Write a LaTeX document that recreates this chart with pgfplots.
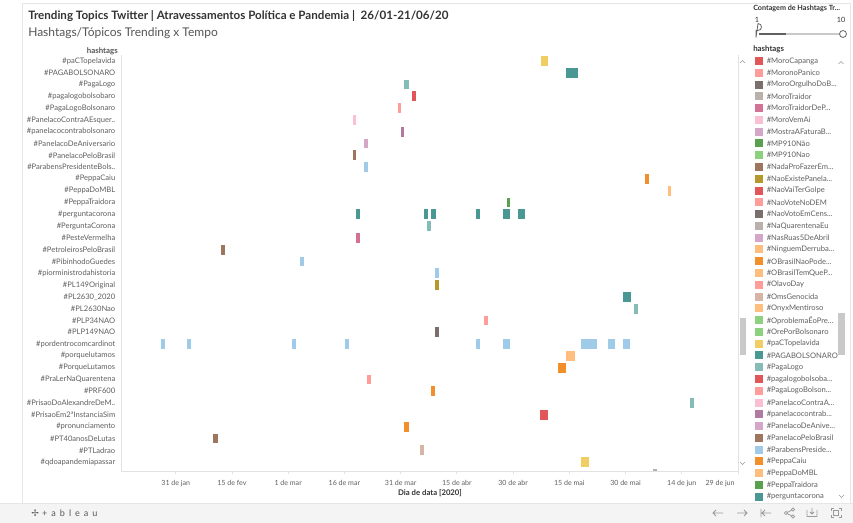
\documentclass[border=0pt]{standalone}
\usepackage{pgfplots}
\pgfplotsset{compat=1.18}
\usepackage{fontspec}
\setmainfont{Lato}
\newfontfamily\symfont{DejaVu Sans}

% Tableau 20 palette
\definecolor{tLBlue}{HTML}{A0CBE8}
\definecolor{tOrange}{HTML}{F28E2B}
\definecolor{tLOrange}{HTML}{FFBE7D}
\definecolor{tGreen}{HTML}{59A14F}
\definecolor{tLGreen}{HTML}{8CD17D}
\definecolor{tOlive}{HTML}{B6992D}
\definecolor{tYellow}{HTML}{F1CE63}
\definecolor{tTeal}{HTML}{499894}
\definecolor{tLTeal}{HTML}{86BCB6}
\definecolor{tRed}{HTML}{E15759}
\definecolor{tSalmon}{HTML}{FF9D9A}
\definecolor{tGray}{HTML}{79706E}
\definecolor{tLGray}{HTML}{BAB0AC}
\definecolor{tPink}{HTML}{D37295}
\definecolor{tLPink}{HTML}{FABFD2}
\definecolor{tPurple}{HTML}{B07AA1}
\definecolor{tLPurple}{HTML}{D4A6C8}
\definecolor{tBrown}{HTML}{9D7660}
\definecolor{tLBrown}{HTML}{D7B5A6}
\definecolor{titlegray}{HTML}{333333}
\definecolor{subgray}{HTML}{555555}
\definecolor{labgray}{HTML}{5F5F5F}
\definecolor{axisgray}{HTML}{E2E2E2}
\definecolor{framegray}{HTML}{E6E6E6}
\definecolor{barbg}{HTML}{F4F4F4}
\definecolor{thumbgray}{HTML}{C9C9C9}
\definecolor{icongray}{HTML}{9A9A9A}

% one day-range mark of a hashtag row
\pgfplotsset{seg/.style={color=#1, line width=7.3pt, line cap=butt, forget plot}}

\newcommand\legitem[3]{%
  \fill[#2] (755,#1-4) rectangle (763,#1+4);
  \node[anchor=west, inner sep=0pt, text=labgray, font=\fontsize{5.7}{6}\selectfont] at (766.5,#1) {#3};}

\begin{document}
\begin{tikzpicture}
\begin{scope}[x=0.75pt, y=-0.75pt]
  \useasboundingbox (0,0) rectangle (853,523);
  \fill[white] (0,0) rectangle (853,523);
  % dashboard frame
  \draw[framegray, line width=0.5pt] (22,503) -- (22,3) -- (850,3) -- (850,503);
  % titles
  \node[anchor=base west, inner sep=0pt, text=titlegray, font=\fontsize{8.7}{10}\selectfont\bfseries]
    at (28,20) {Trending Topics Twitter | Atravessamentos Política e Pandemia |\ \ 26/01-21/06/20};
  \node[anchor=base west, inner sep=0pt, text=subgray, font=\fontsize{9}{11}\selectfont]
    at (28,37) {Hashtags/Tópicos Trending x Tempo};
  % row header
  \node[anchor=base east, inner sep=0pt, text=subgray, font=\fontsize{5.9}{6}\selectfont\bfseries]
    at (118,54) {hashtags};
  % x title
  \node[anchor=center, inner sep=0pt, text=titlegray, font=\fontsize{5.8}{6}\selectfont\bfseries]
    at (430,493) {Dia de data [2020]};
  % right border of the plot and its scrollbar
  \draw[axisgray, line width=0.6pt] (738,55) -- (738,471);
  \fill[thumbgray] (739.5,318) rectangle (746,355);
  \draw[icongray, line width=0.5pt] (740,63) -- (742.5,60.5) -- (745,63);
  \draw[icongray, line width=0.5pt] (740,462) -- (742.5,464.5) -- (745,462);

  % filter slider
  \node[anchor=base west, inner sep=0pt, text=titlegray, font=\fontsize{5.4}{6}\selectfont\bfseries]
    at (753,11) {Contagem de Hashtags Tr...};
  \node[anchor=base, inner sep=0pt, text=titlegray, font=\fontsize{5.4}{6}\selectfont] at (757,23) {1};
  \node[anchor=base, inner sep=0pt, text=titlegray, font=\fontsize{5.4}{6}\selectfont] at (841,23) {10};
  \draw[thumbgray, line width=0.9pt] (786,34) -- (840,34);
  \draw[gray!75!black, line width=1.8pt] (759,34) -- (786,34);
  \draw[gray!80!black, fill=white, line width=0.6pt] (756,30.5) -- (758,30.5) arc (90:-90:3.5) -- (756,37.5) -- cycle;
  \draw[gray!80!black, fill=white, line width=0.6pt] (843,34) circle (3.5);

  % colour legend
  \node[anchor=base west, inner sep=0pt, text=titlegray, font=\fontsize{5.9}{6}\selectfont\bfseries]
    at (753,52) {hashtags};
  \draw[icongray, line width=0.5pt] (838.5,64) -- (841,61.5) -- (843.5,64);
  \draw[icongray, line width=0.5pt] (839,495) -- (841.5,497.5) -- (844,495);
  \fill[thumbgray] (837.5,313) rectangle (845,355);
  \legitem{61.0}{tRed}{\#MoroCapanga}
  \legitem{72.8}{tSalmon}{\#MoronoPanico}
  \legitem{84.6}{tGray}{\#MoroOrgulhoDoB...}
  \legitem{96.3}{tLGray}{\#MoroTraidor}
  \legitem{108.1}{tPink}{\#MoroTraidorDeP...}
  \legitem{119.9}{tLPink}{\#MoroVemAi}
  \legitem{131.7}{tLPurple}{\#MostraAFaturaB...}
  \legitem{143.5}{tGreen}{\#MP910Não}
  \legitem{155.2}{tLGreen}{\#MP910Nao}
  \legitem{167.0}{tBrown}{\#NadaProFazerEm...}
  \legitem{178.8}{tOlive}{\#NaoExistePanela...}
  \legitem{190.6}{tRed}{\#NaoVaiTerGolpe}
  \legitem{202.4}{tSalmon}{\#NaoVoteNoDEM}
  \legitem{214.1}{tGray}{\#NaoVotoEmCens...}
  \legitem{225.9}{tLGray}{\#NaQuarentenaEu}
  \legitem{237.7}{tLPurple}{\#NasRuas5DeAbril}
  \legitem{249.5}{tLOrange}{\#NinguemDerruba...}
  \legitem{261.3}{tOrange}{\#OBrasilNaoPode...}
  \legitem{273.0}{tLOrange}{\#OBrasilTemQueP...}
  \legitem{284.8}{tSalmon}{\#OlavoDay}
  \legitem{296.6}{tLBrown}{\#OmsGenocida}
  \legitem{308.4}{tLOrange}{\#OnyxMentiroso}
  \legitem{320.2}{tLGreen}{\#OproblemaÉoPre...}
  \legitem{331.9}{tLGreen}{\#OrePorBolsonaro}
  \legitem{343.7}{tYellow}{\#paCTopelavida}
  \legitem{355.5}{tTeal}{\#PAGABOLSONARO}
  \legitem{367.3}{tLTeal}{\#PagaLogo}
  \legitem{379.1}{tRed}{\#pagalogobolsoba...}
  \legitem{390.8}{tSalmon}{\#PagaLogoBolson...}
  \legitem{402.6}{tLPink}{\#PanelacoContraA...}
  \legitem{414.4}{tPurple}{\#panelacocontrab...}
  \legitem{426.2}{tLPurple}{\#PanelacoDeAnive...}
  \legitem{438.0}{tBrown}{\#PanelacoPeloBrasil}
  \legitem{449.7}{tLBlue}{\#ParabensPreside...}
  \legitem{461.5}{tOrange}{\#PeppaCaiu}
  \legitem{473.3}{tLOrange}{\#PeppaDoMBL}
  \legitem{485.1}{tGreen}{\#PeppaTraidora}
  \legitem{496.9}{tTeal}{\#perguntacorona}

  % toolbar
  \fill[barbg] (0,503) rectangle (853,523);
  \draw[framegray, line width=0.5pt] (0,503) -- (853,503);
  \node[anchor=west, inner sep=0pt, text=gray!70!black, font=\fontsize{6.8}{7}\selectfont]
    at (31,513) {{\symfont ✢}\kern2.5pt+\kern3pt a\kern3pt b\kern3pt l\kern3pt e\kern3pt a\kern3pt u};
  \draw[icongray, line width=0.6pt] (713,513) -- (723,513) (716,510) -- (713,513) -- (716,516);
  \draw[icongray, line width=0.6pt] (737,513) -- (747,513) (744,510) -- (747,513) -- (744,516);
  \draw[icongray, line width=0.6pt] (761,509) -- (761,517) (762,513) -- (771,513) (765,510) -- (762,513) -- (765,516);
  \draw[icongray, line width=0.6pt] (786,513) -- (793,509.5) (786,513) -- (793,516.5);
  \draw[icongray, fill=barbg, line width=0.6pt] (786,513) circle (1.6) (793,509.5) circle (1.6) (793,516.5) circle (1.6);
  \draw[icongray, line width=0.6pt] (807,510) -- (807,516.5) -- (817,516.5) -- (817,510) (812,508) -- (812,514) (810,512) -- (812,514) -- (814,512);
  \draw[icongray, line width=0.6pt] (831,511) -- (831,508.5) -- (833.5,508.5) (838.5,508.5) -- (841,508.5) -- (841,511)
     (841,515) -- (841,517.5) -- (838.5,517.5) (833.5,517.5) -- (831,517.5) -- (831,515);
  \draw[icongray, line width=0.5pt] (833.5,510.5) rectangle (838.5,515.5);
\end{scope}

\begin{axis}[
  at={(90.75pt,-353.25pt)}, anchor=south west,
  scale only axis, width=462.75pt, height=312pt,
  xmin=16.4, xmax=181, ymin=0.24, ymax=35.5,
  axis x line*=bottom, axis y line*=left,
  axis line style={draw=axisgray, line width=0.6pt, -},
  tick align=outside, major tick length=2.6pt,
  x tick style={draw=axisgray, line width=0.6pt},
  y tick style={draw=none},
  xtick={31,46,61,76,91,106,121,136,151,166},
  xticklabels={31 de jan,15 de fev,1 de mar,16 de mar,31 de mar,15 de abr,30 de abr,15 de mai,30 de mai,14 de jun},
  extra x ticks={181},
  extra x tick labels={29 de jun},
  extra x tick style={xticklabel style={anchor=north east, xshift=1pt}},
  xticklabel style={font=\fontsize{5.3}{6}\selectfont, text=labgray, yshift=-0.5pt},
  ytick={1,...,35},
  yticklabels={\#qdoapandemiapassar,\#PTLadrao,\#PT40anosDeLutas,\#pronunciamento,
    \#PrisaoEm2ªInstanciaSim,\#PrisaoDoAlexandreDeM..,\#PRF600,\#PraLerNaQuarentena,
    \#PorqueLutamos,\#porquelutamos,\#pordentrocomcardinot,\#PLP149NAO,\#PLP34NAO,
    \#PL2630Nao,\#PL2630\_2020,\#PL149Original,\#piorministrodahistoria,\#PibinhodoGuedes,
    \#PetroleirosPeloBrasil,\#PesteVermelha,\#PerguntaCorona,\#perguntacorona,
    \#PeppaTraidora,\#PeppaDoMBL,\#PeppaCaiu,\#ParabensPresidenteBols..,\#PanelacoPeloBrasil,
    \#PanelacoDeAniversario,\#panelacocontrabolsonaro,\#PanelacoContraAEsquer..,
    \#PagaLogoBolsonaro,\#pagalogobolsobaro,\#PagaLogo,\#PAGABOLSONARO,\#paCTopelavida},
  yticklabel style={font=\fontsize{5.7}{6}\selectfont, text=labgray, inner sep=1.5pt},
  unbounded coords=jump,
  clip=true,
]
% each row: start and end day (day of year 2020) of every trending stretch
\addplot[seg=tYellow]  coordinates {(128.4,35) (130.2,35)};
\addplot[seg=tTeal]    coordinates {(135.2,34) (138.2,34)};
\addplot[seg=tLTeal]   coordinates {(92.0,33) (93.2,33)};
\addplot[seg=tRed]     coordinates {(94.1,32) (95.1,32)};
\addplot[seg=tSalmon]  coordinates {(90.2,31) (91.1,31)};
\addplot[seg=tLPink]   coordinates {(78.3,30) (79.1,30)};
\addplot[seg=tPurple]  coordinates {(91.1,29) (92.0,29)};
\addplot[seg=tLPurple] coordinates {(81.2,28) (82.2,28)};
\addplot[seg=tBrown]   coordinates {(78.2,27) (79.1,27)};
\addplot[seg=tLBlue]   coordinates {(81.2,26) (82.2,26)};
\addplot[seg=tOrange]  coordinates {(156.2,25) (157.3,25)};
\addplot[seg=tLOrange] coordinates {(162.2,24) (163.2,24)};
\addplot[seg=tGreen]   coordinates {(119.4,23) (120.3,23)};
\addplot[seg=tTeal]    coordinates {(79.0,22) (80.1,22) (nan,22) (97.1,22) (98.2,22) (nan,22)
   (99.2,22) (100.3,22) (nan,22) (111.2,22) (112.3,22) (nan,22) (118.2,22) (120.3,22) (nan,22)
   (122.2,22) (124.2,22)};
\addplot[seg=tLTeal]   coordinates {(98.1,21) (99.2,21)};
\addplot[seg=tPink]    coordinates {(79.0,20) (80.1,20)};
\addplot[seg=tBrown]   coordinates {(43.0,19) (44.2,19)};
\addplot[seg=tLBlue]   coordinates {(64.2,18) (65.1,18)};
\addplot[seg=tLBlue]   coordinates {(100.2,17) (101.2,17)};
\addplot[seg=tOlive]   coordinates {(100.2,16) (101.2,16)};
\addplot[seg=tTeal]    coordinates {(150.3,15) (152.4,15)};
\addplot[seg=tLTeal]   coordinates {(153.3,14) (154.3,14)};
\addplot[seg=tSalmon]  coordinates {(113.2,13) (114.3,13)};
\addplot[seg=tGray]    coordinates {(100.2,12) (101.2,12)};
\addplot[seg=tLBlue]   coordinates {(27.1,11) (28.1,11) (nan,11) (34.0,11) (35.1,11) (nan,11)
   (62.1,11) (63.1,11) (nan,11) (76.2,11) (77.2,11) (nan,11) (111.2,11) (112.3,11) (nan,11)
   (118.2,11) (120.3,11) (nan,11) (139.2,11) (143.3,11) (nan,11) (146.3,11) (148.3,11) (nan,11)
   (150.2,11) (152.3,11)};
\addplot[seg=tLOrange] coordinates {(135.2,10) (137.4,10)};
\addplot[seg=tOrange]  coordinates {(133.1,9) (135.2,9)};
\addplot[seg=tSalmon]  coordinates {(82.0,8) (83.0,8)};
\addplot[seg=tOrange]  coordinates {(99.1,7) (100.2,7)};
\addplot[seg=tLTeal]   coordinates {(168.2,6) (169.2,6)};
\addplot[seg=tRed]     coordinates {(128.1,5) (130.3,5)};
\addplot[seg=tOrange]  coordinates {(92.0,4) (93.1,4)};
\addplot[seg=tBrown]   coordinates {(41.0,3) (42.2,3)};
\addplot[seg=tLBrown]  coordinates {(96.2,2) (97.2,2)};
\addplot[seg=tYellow]  coordinates {(139.2,1) (141.3,1)};
\addplot[seg=tLGray]   coordinates {(158.3,0) (159.3,0)};
\end{axis}
\end{tikzpicture}
\end{document}
